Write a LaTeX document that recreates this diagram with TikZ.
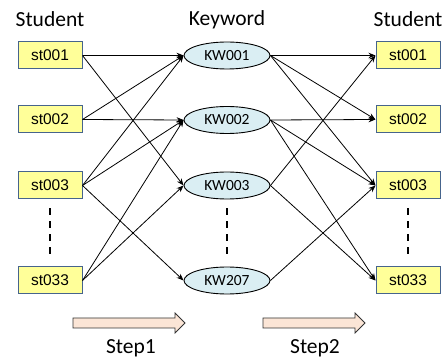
\documentclass[tikz,border=0pt]{standalone}
\usepackage{fontspec}
\setmainfont{Carlito}
\newfontfamily\arialf{Liberation Sans}
\usetikzlibrary{shapes.geometric,arrows.meta}
\definecolor{boxfill}{RGB}{255,255,153}
\definecolor{boxborder}{RGB}{70,100,140}
\definecolor{kwfill}{RGB}{218,238,243}
\definecolor{stepfill}{RGB}{251,229,214}
\begin{document}
\begin{tikzpicture}[x=1pt,y=-1pt,
  stubox/.style={draw=boxborder, fill=boxfill, line width=1pt, minimum width=64pt, minimum height=27pt, inner sep=0pt, font=\arialf\fontsize{15.5}{16}\selectfont},
  kwnode/.style={ellipse, draw, fill=kwfill, line width=0.9pt, minimum width=86pt, minimum height=27pt, inner sep=0pt, font=\fontsize{15.5}{16}\selectfont},
  link/.style={-{Stealth[length=7pt,width=5.5pt]}, line width=0.8pt},
  dots/.style={dash pattern=on 7pt off 6pt, line width=1.4pt},
  lbl/.style={anchor=base, inner sep=0pt, font=\fontsize{21.5}{22}\selectfont},
  steparrow/.style={draw=black!80, fill=stepfill, line width=0.8pt}]
\useasboundingbox (0,0) rectangle (445,358);

% labels
\node[lbl] (lstud) at (50,27) {Student};
\node[lbl] (lkw) at (227,26) {Keyword};
\node[lbl] (rstud) at (408,27) {Student};

% left students
\node[stubox] (a1) at (50,55.5) {st001};
\node[stubox] (a2) at (50,119.5) {st002};
\node[stubox] (a3) at (50,185.5) {st003};
\node[stubox] (a4) at (50,280.5) {st033};

% keywords
\node[kwnode] (k1) at (227,55.5) {KW001};
\node[kwnode] (k2) at (227,120) {KW002};
\node[kwnode] (k3) at (227,185.5) {KW003};
\node[kwnode] (k4) at (227,280.5) {KW207};

% right students
\node[stubox] (b1) at (408,55.5) {st001};
\node[stubox] (b2) at (408,119.5) {st002};
\node[stubox] (b3) at (408,185.5) {st003};
\node[stubox] (b4) at (408,280.5) {st033};

% dashed ellipses
\draw[dots] ([yshift=-9pt]a3.south) -- ([yshift=10pt]a4.north);
\draw[dots] ([yshift=-9pt]k3.south) -- ([yshift=10pt]k4.north);
\draw[dots] ([yshift=-9pt]b3.south) -- ([yshift=10pt]b4.north);

% step 1 links
\draw[link] (a1.east) -- (k1.west);
\draw[link] (a1.east) -- (k3.west);
\draw[link] (a2.east) -- (k1.west);
\draw[link] (a2.east) -- (k2.west);
\draw[link] (a3.east) -- (k1.west);
\draw[link] (a3.east) -- (k2.west);
\draw[link] (a3.east) -- (k4.west);
\draw[link] (a4.east) -- (k2.west);
\draw[link] (a4.east) -- (k3.west);

% step 2 links
\draw[link] (k1.east) -- (b1.west);
\draw[link] (k1.east) -- (b2.west);
\draw[link] (k1.east) -- (b3.west);
\draw[link] (k2.east) -- (b2.west);
\draw[link] (k2.east) -- (b3.west);
\draw[link] (k2.east) -- (b4.west);
\draw[link] (k3.east) -- (b1.west);
\draw[link] (k3.east) -- (b4.west);
\draw[link] (k4.east) -- (b3.west);

% step arrows
\draw[steparrow] (73,318) -- (175,318) -- (175,313) -- (185,323) -- (175,333) -- (175,328) -- (73,328) -- cycle;
\draw[steparrow] (263,318) -- (355,318) -- (355,313) -- (365,323) -- (355,333) -- (355,328) -- (263,328) -- cycle;
\node[lbl] (s1) at (131,354) {Step1};
\node[lbl] (s2) at (315,354) {Step2};
\end{tikzpicture}
\end{document}
